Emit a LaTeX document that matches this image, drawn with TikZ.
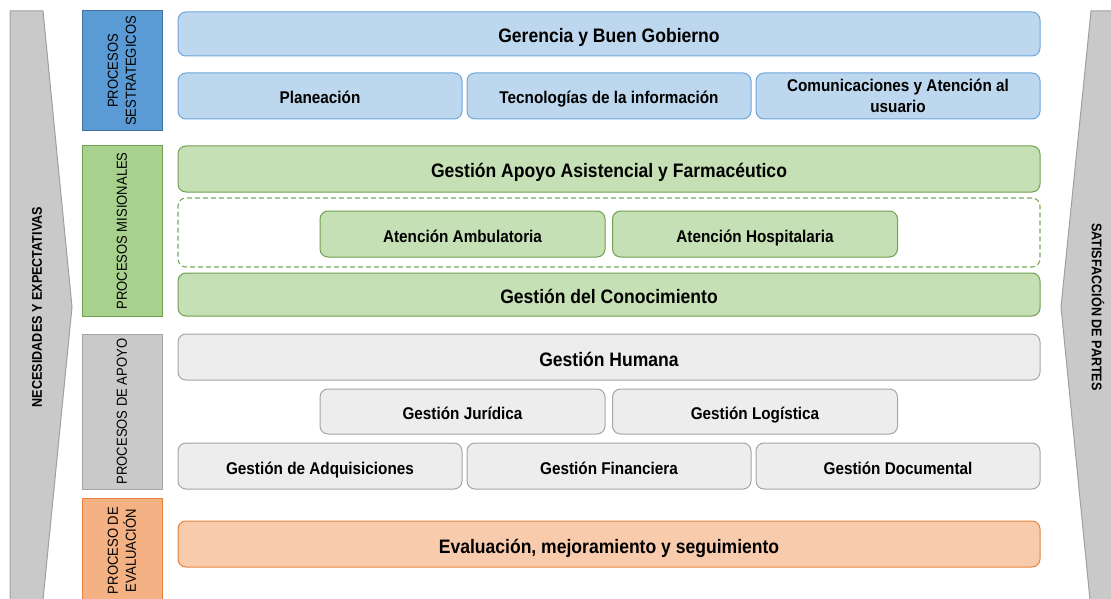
\documentclass[tikz,border=0pt]{standalone}
\usepackage{fontspec}
\setmainfont[FakeStretch=0.9]{Liberation Sans}
\usetikzlibrary{shapes.geometric, arrows}

\begin{document}
\begin{tikzpicture}[x=1pt,y=1pt,yscale=-1,xscale=1,
  box/.style={draw, rounded corners=8pt, line width=1pt, align=center, inner sep=1pt, text height=16pt, text depth=0pt, font=\bfseries\fontsize{17}{21}\selectfont},
  big/.style={text height=18pt, font=\bfseries\fontsize{19.5}{23}\selectfont},
  bluebox/.style={box, fill={rgb,255:red,189;green,215;blue,238}, draw={rgb,255:red,110;green,166;blue,220}},
  greenbox/.style={box, fill={rgb,255:red,197;green,224;blue,180}, draw={rgb,255:red,112;green,160;blue,80}},
  graybox/.style={box, fill={rgb,255:red,237;green,237;blue,237}, draw={rgb,255:red,165;green,165;blue,165}},
  orangebox/.style={box, fill={rgb,255:red,248;green,203;blue,173}, draw={rgb,255:red,230;green,130;blue,60}},
  tag/.style={draw, line width=1pt, rotate=90, align=center, inner sep=1pt, minimum height=80pt, font=\fontsize{14.5}{18}\selectfont},
  chevron/.style={fill={rgb,255:red,201;green,201;blue,201}, draw={rgb,255:red,160;green,160;blue,160}, line width=1pt},
  side/.style={font=\bfseries\fontsize{14}{17}\selectfont}
]
\clip (0,0) rectangle (1111,599);

%Shape: side arrows
\draw [chevron] (10,11) -- (43,11) -- (72,307) -- (43,600) -- (10,600) -- cycle ;
\draw [chevron] (1120,11) -- (1091,11) -- (1061,307) -- (1090,600) -- (1120,600) -- cycle ;
\node [side, rotate=90] (necesidades) at (37,307) {NECESIDADES Y EXPECTATIVAS};
\node [side, rotate=-90] (satisfaccion) at (1098,307) {SATISFACCIÓN DE PARTES};

%Shape: process tags
\node [tag, fill={rgb,255:red,91;green,155;blue,213}, draw={rgb,255:red,65;green,113;blue,156}, minimum width=120pt] (estrategicos) at (122,71) {PROCESOS\\SESTRATEGICOS};
\node [tag, fill={rgb,255:red,169;green,209;blue,142}, draw={rgb,255:red,112;green,160;blue,80}, minimum width=170pt] (misionales) at (122,231) {PROCESOS MISIONALES};
\node [tag, fill={rgb,255:red,201;green,201;blue,201}, draw={rgb,255:red,165;green,165;blue,165}, minimum width=155pt] (apoyo) at (122,411.5) {PROCESOS DE APOYO};
\node [tag, fill={rgb,255:red,244;green,177;blue,131}, draw={rgb,255:red,230;green,130;blue,60}, minimum width=105pt] (evaluaciontag) at (122,550.5) {PROCESO DE\\EVALUACIÓN};

% Text Node: estrategicos
\node [bluebox, big, minimum width=862pt, minimum height=44pt] (gerencia) at (609,34) {Gerencia y Buen Gobierno};
\node [bluebox, minimum width=284pt, minimum height=46pt] (planeacion) at (320,96) {Planeación};
\node [bluebox, minimum width=284pt, minimum height=46pt] (tecnologias) at (609,96) {Tecnologías de la información};
\node [bluebox, text height=, text depth=, minimum width=284pt, minimum height=46pt] (comunicaciones) at (898,96) {Comunicaciones y Atención al\\usuario};

% Text Node: misionales
\node [greenbox, big, minimum width=862pt, minimum height=46pt] (asistencial) at (609,169) {Gestión Apoyo Asistencial y Farmacéutico};
\node [box, fill=none, line width=1.1pt, dash pattern=on 5pt off 3pt, draw={rgb,255:red,120;green,170;blue,90}, minimum width=862pt, minimum height=69pt] (atencion) at (609,232.5) {};
\node [greenbox, minimum width=285pt, minimum height=46pt] (ambulatoria) at (462.5,234) {Atención Ambulatoria};
\node [greenbox, minimum width=285pt, minimum height=46pt] (hospitalaria) at (755,234) {Atención Hospitalaria};
\node [greenbox, big, minimum width=862pt, minimum height=43pt] (conocimiento) at (609,294.5) {Gestión del Conocimiento};

% Text Node: apoyo
\node [graybox, big, minimum width=862pt, minimum height=46pt] (humana) at (609,357) {Gestión Humana};
\node [graybox, minimum width=285pt, minimum height=45pt] (juridica) at (462.5,411.5) {Gestión Jurídica};
\node [graybox, minimum width=285pt, minimum height=45pt] (logistica) at (755,411.5) {Gestión Logística};
\node [graybox, minimum width=284pt, minimum height=46pt] (adquisiciones) at (320,466) {Gestión de Adquisiciones};
\node [graybox, minimum width=284pt, minimum height=46pt] (financiera) at (609,466) {Gestión Financiera};
\node [graybox, minimum width=284pt, minimum height=46pt] (documental) at (898,466) {Gestión Documental};

% Text Node: evaluacion
\node [orangebox, big, minimum width=862pt, minimum height=46pt] (evaluacion) at (609,544) {Evaluación, mejoramiento y seguimiento};

\end{tikzpicture}
\end{document}
